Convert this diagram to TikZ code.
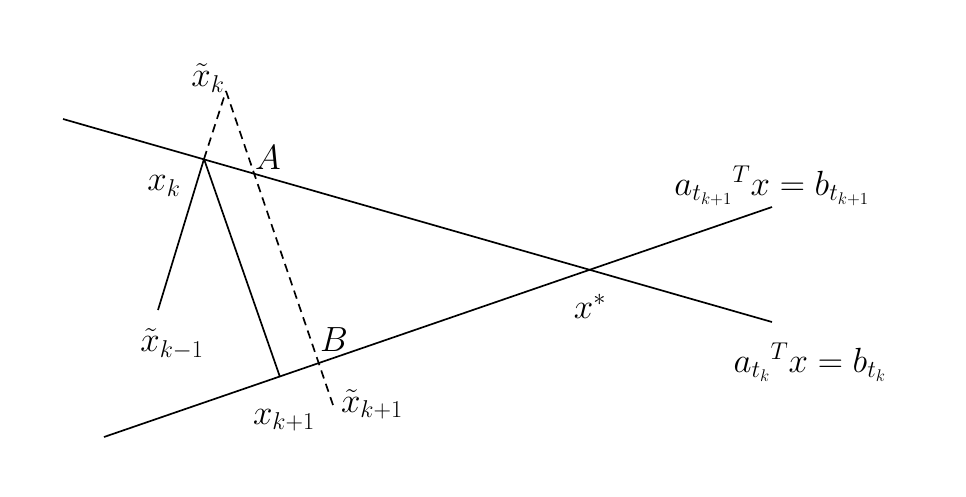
\documentclass[tikz,border=0pt]{standalone}
\usepackage{fontspec}
\setmainfont{Liberation Serif}
\begin{document}
\begin{tikzpicture}
[linedecorate/.style={-,line width=1.2pt},%
  dashdecorate/.style={-,line width=1.2pt,dash pattern=on 6pt off 4pt},%
  labeldecorate/.style={font=\fontsize{25}{29}\selectfont,inner sep=0pt}]
\useasboundingbox (0,0) rectangle (24.15,-12.4);
% points
\coordinate (l1a) at (1.575,-2.975);
\coordinate (l1b) at (19.3,-8.05);
\coordinate (l2a) at (2.6,-10.925);
\coordinate (l2b) at (19.3,-5.175);
\coordinate (xk) at (5.1,-3.975);
\coordinate (xt) at (5.65,-2.275);
\coordinate (xkm) at (3.95,-7.75);
\coordinate (xkp) at (7.0,-9.425);
\coordinate (xtp) at (8.325,-10.125);
% labels
\node (lxt) at (5.2,-1.95) [labeldecorate] {$\tilde{x}_k$};
\node (lxk) at (4.1,-4.65) [labeldecorate] {$x_k$};
\node (lxkm) at (4.3,-8.6) [labeldecorate] {$\tilde{x}_{k-1}$};
\node (lxkp) at (7.1,-10.5) [labeldecorate] {$x_{k+1}$};
\node (lxtp) at (9.3,-10.1) [labeldecorate] {$\tilde{x}_{k+1}$};
\node (la) at (6.7,-3.95) [labeldecorate] {$A$};
\node (lb) at (8.35,-8.5) [labeldecorate] {$B$};
\node (lstar) at (14.75,-7.65) [labeldecorate] {$x^{*}$};
\node (leq1) at (19.3,-4.65) [labeldecorate] {$a_{t_{k+1}}{}^{T}x=b_{t_{k+1}}$};
\node (leq2) at (20.25,-9.05) [labeldecorate] {$a_{t_k}{}^{T}x=b_{t_k}$};
% lines
\path
(l1a) edge[linedecorate] (l1b)
(l2a) edge[linedecorate] (l2b)
(xkm) edge[linedecorate] (xk)
(xk) edge[linedecorate] (xkp)
(xk) edge[dashdecorate] (xt)
(xt) edge[dashdecorate] (xtp);
\end{tikzpicture}
\end{document}
